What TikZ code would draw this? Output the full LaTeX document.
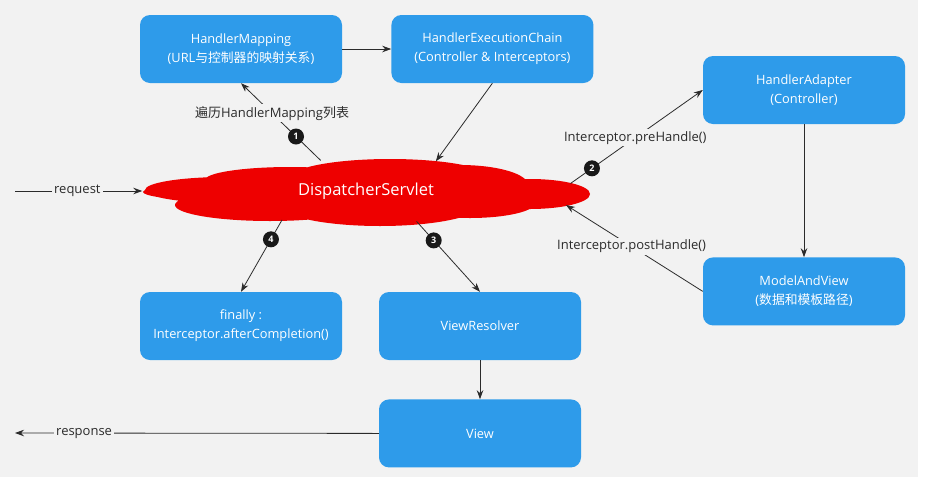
\documentclass[tikz,border=0pt]{standalone}
\usepackage{fontspec}
\setmainfont{Open Sans}
\newfontfamily\cjk{Noto Sans CJK SC}
\usetikzlibrary{positioning,shapes.geometric,arrows.meta}
\definecolor{bg}{HTML}{F2F2F2}
\definecolor{boxblue}{HTML}{2E9BEA}
\definecolor{cloudred}{HTML}{EE0000}
\definecolor{linegray}{HTML}{2B2B2B}

\begin{document}
\begin{tikzpicture}[x=1pt,y=-1pt,>={Stealth[length=9pt,width=6.5pt]},
	box/.style={rectangle,rounded corners=10pt,fill=boxblue,text=white,minimum width=202pt,
		minimum height=68pt,align=center,font=\fontsize{12.8}{19}\selectfont},
	num/.style={circle,fill=black!90,text=white,inner sep=0pt,minimum size=16pt,
		font=\fontsize{9}{9}\selectfont\bfseries},
	lbl/.style={fill=bg,text=linegray,inner sep=2pt,font=\fontsize{13}{15}\selectfont},
	conn/.style={draw=linegray,line width=0.8pt}]
\fill[white] (0,0) rectangle (927,480);
\fill[bg] (0,0) rectangle (918,477);
\useasboundingbox (0,0) rectangle (927,480);

% the red cloud, made of overlapping ellipses
\fill[cloudred] (366,192) ellipse [x radius=223,y radius=14]
	(366,192) ellipse [x radius=180,y radius=25]
	(225,190) ellipse [x radius=80,y radius=13]
	(290,180) ellipse [x radius=85,y radius=13]
	(390,178) ellipse [x radius=100,y radius=19]
	(460,185) ellipse [x radius=68,y radius=20]
	(530,194) ellipse [x radius=60,y radius=15]
	(270,205) ellipse [x radius=95,y radius=16]
	(380,205) ellipse [x radius=100,y radius=21]
	(470,203) ellipse [x radius=65,y radius=15];
\node[ellipse,minimum width=447pt,minimum height=62pt,inner sep=0pt,text=white,
	font=\fontsize{16.5}{17}\selectfont]	(ds)	at (366,191)	{DispatcherServlet};

\node[box]	(hm)	at (241,49)		{HandlerMapping\\(URL{\cjk 与控制器的映射关系})};
\node[box]	(hec)	[right=49pt of hm]	{HandlerExecutionChain\\(Controller \& Interceptors)};
\node[box]	(ha)	at (804,90)		{HandlerAdapter\\(Controller)};
\node[box]	(mav)	[below=133pt of ha]	{ModelAndView\\({\cjk 数据和模板路径})};
\node[box]	(fin)	at (241,326)		{finally :\\Interceptor.afterCompletion()};
\node[box]	(vr)	at (480,326)		{ViewResolver};
\node[box]	(view)	[below=39pt of vr]	{View};
\coordinate	(req)	at (15,191);
\coordinate	(resp)	at (15,433);

\draw[conn,->]	(req)	-- node[lbl,pos=.49]	{request}	(ds.west);
\draw[conn,->]	(hm)	-- (hec);
\draw[conn,->]	(hec.south)	-- (ds.23);
\draw[conn,->]	(ds.146)	-- node[num,pos=.31]	{1}
			node[lbl,pos=.61]	{{\cjk 遍历}HandlerMapping{\cjk 列表}}	(hm.south);
\draw[conn,->,shorten <=-6pt]	(ds.3.5)	-- node[num,pos=.13]	{2}
			node[lbl,pos=.47]	{Interceptor.preHandle()}	(ha.west);
\draw[conn,->]	(ha)	-- (mav);
\draw[conn,->]	(mav.west)	-- node[lbl,pos=.52]	{Interceptor.postHandle()}	(ds.-4);
\draw[conn,->]	(ds.199)	-- node[num,pos=.27]	{4}	(fin.north);
\draw[conn,->]	(ds.-31)	-- node[num,pos=.27]	{3}	(vr.north);
\draw[conn,->]	(vr)	-- (view);
\draw[conn,->]	(view.west)	-- node[lbl,pos=.81]	{response}	(resp);
\end{tikzpicture}
\end{document}
